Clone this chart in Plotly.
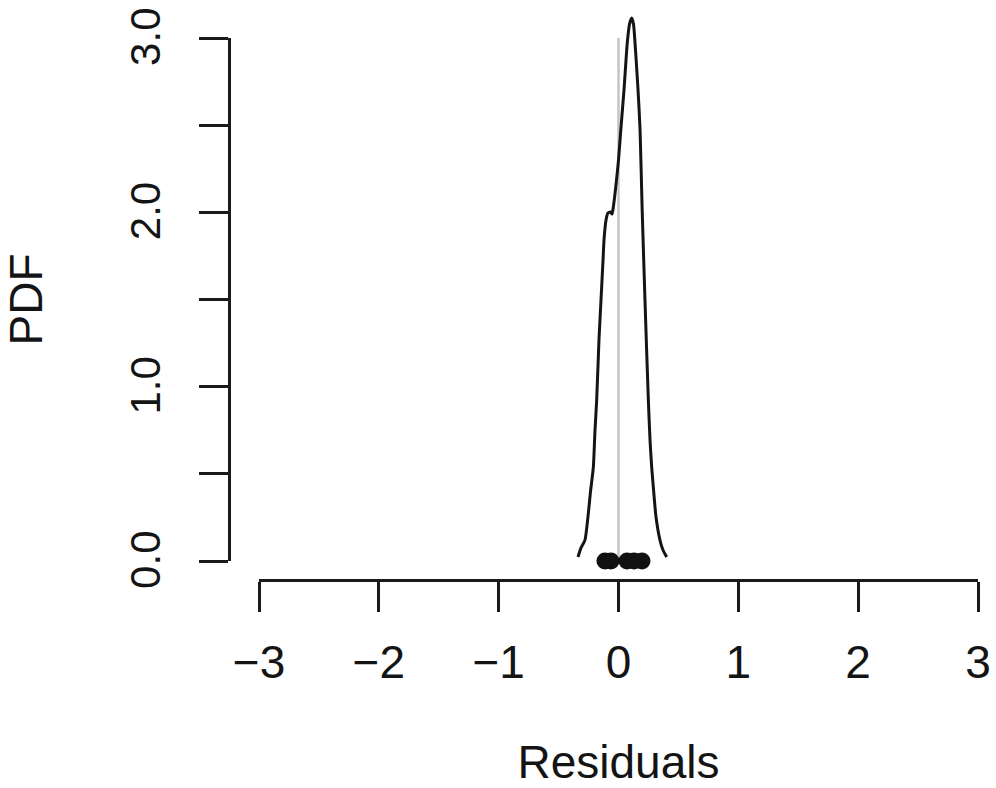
import plotly.graph_objects as go

# ---- data ----
residuals = [-0.113, -0.063, 0.071, 0.129, 0.196]

curve_x = [-0.338, -0.313, -0.280, -0.255, -0.234, -0.210, -0.196, -0.182, -0.163,
           -0.146, -0.129, -0.121, -0.104, -0.088, -0.067, -0.054, -0.042, -0.021,
           0.000, 0.019, 0.046, 0.073, 0.092, 0.110, 0.125, 0.138, 0.163, 0.180,
           0.197, 0.221, 0.249, 0.263, 0.277, 0.296, 0.313, 0.346, 0.371, 0.402]
curve_pdf = [0.023, 0.075, 0.120, 0.252, 0.396, 0.539, 0.751, 0.924, 1.268,
             1.497, 1.727, 1.841, 1.956, 1.996, 2.002, 1.990, 2.036, 2.157,
             2.300, 2.472, 2.702, 2.971, 3.080, 3.115, 3.080, 2.971, 2.702, 2.472,
             2.025, 1.497, 0.924, 0.694, 0.539, 0.379, 0.252, 0.120, 0.063, 0.023]

ref_x = [0, 0]
ref_y = [0, 3]

x_ticks = [-3, -2, -1, 0, 1, 2, 3]
y_ticks = [0, 0.5, 1.0, 1.5, 2.0, 2.5, 3.0]
y_ticklabels = ["0.0", "", "1.0", "", "2.0", "", "3.0"]

x_title = "Residuals"
y_title = "PDF"

FONT = "Liberation Sans, Arial, Helvetica, sans-serif"
TXT = "#141414"
FS = 46
FS_Y = 42

fig = go.Figure()

# grey reference line at zero (on the drawn y axis, range 0..3)
fig.add_trace(go.Scatter(x=ref_x, y=ref_y, mode="lines", xaxis="x", yaxis="y",
                         line=dict(color="#c4c4c8", width=2.5),
                         hoverinfo="skip", showlegend=False))

# density curve (on hidden data axis with the same scale)
fig.add_trace(go.Scatter(x=curve_x, y=curve_pdf, mode="lines", xaxis="x", yaxis="y2",
                         line=dict(color="#141414", width=3, shape="spline", smoothing=0.6),
                         showlegend=False))

# residual points
fig.add_trace(go.Scatter(x=residuals, y=[0] * len(residuals), mode="markers",
                         xaxis="x", yaxis="y2", cliponaxis=False,
                         marker=dict(color="#111111", size=17, line=dict(width=0)),
                         showlegend=False))

# page body margin is removed (post_script) so the figure sits at (0, 0)
W, H = 996, 788
x_left_axis = 229           # y-axis line
x_m3, x_p3 = 259, 978
y_xaxis = 580               # x-axis line
y0_px, y3_px = 561, 38
T = 8
L, R = x_left_axis, W - x_p3
B = H - y_xaxis
plot_h = H - T - B
px_per_unit = (y0_px - y3_px) / 3.0
d0 = (H - B - y0_px) / plot_h
d3 = (H - B - y3_px) / plot_h
ymax = (y0_px - T) / px_per_unit

fig.update_layout(
    width=W, height=H,
    margin=dict(l=L, r=R, t=T, b=B, autoexpand=False),
    paper_bgcolor="white", plot_bgcolor="rgba(0,0,0,0)",
    font=dict(family=FONT, color=TXT, size=FS),
    xaxis=dict(
        domain=[(x_m3 - L) / (W - L - R), 1], range=[-3, 3],
        anchor="free", position=0, automargin=False,
        showline=True, linecolor="#1a1a1a", linewidth=3,
        ticks="outside", ticklen=30, tickwidth=2.5, tickcolor="#1a1a1a",
        tickvals=x_ticks, tickfont=dict(size=FS, family=FONT, color=TXT),
        ticklabelstandoff=11, ticklabeloverflow="allow",
        showgrid=False, zeroline=False,
        title=dict(text=x_title, font=dict(size=FS, family=FONT, color=TXT), standoff=72),
    ),
    yaxis=dict(
        domain=[d0, d3], range=[0, 3],
        anchor="free", position=0, automargin=False,
        showline=True, linecolor="#1a1a1a", linewidth=3,
        ticks="outside", ticklen=29, tickwidth=2.5, tickcolor="#1a1a1a",
        tickvals=y_ticks, ticktext=y_ticklabels, tickangle=-90,
        tickfont=dict(size=FS_Y, family=FONT, color=TXT),
        ticklabelstandoff=22, ticklabelshift=5, ticklabeloverflow="allow",
        showgrid=False, zeroline=False,
        title=dict(text=y_title, font=dict(size=FS, family=FONT, color=TXT), standoff=74),
    ),
    yaxis2=dict(
        domain=[d0, 1], range=[0, ymax], anchor="x", automargin=False,
        visible=False, showgrid=False, zeroline=False,
    ),
)

fig.write_html("out.html",
               config={"displayModeBar": False},
               post_script="document.body.style.margin='0';document.body.style.padding='0';")
